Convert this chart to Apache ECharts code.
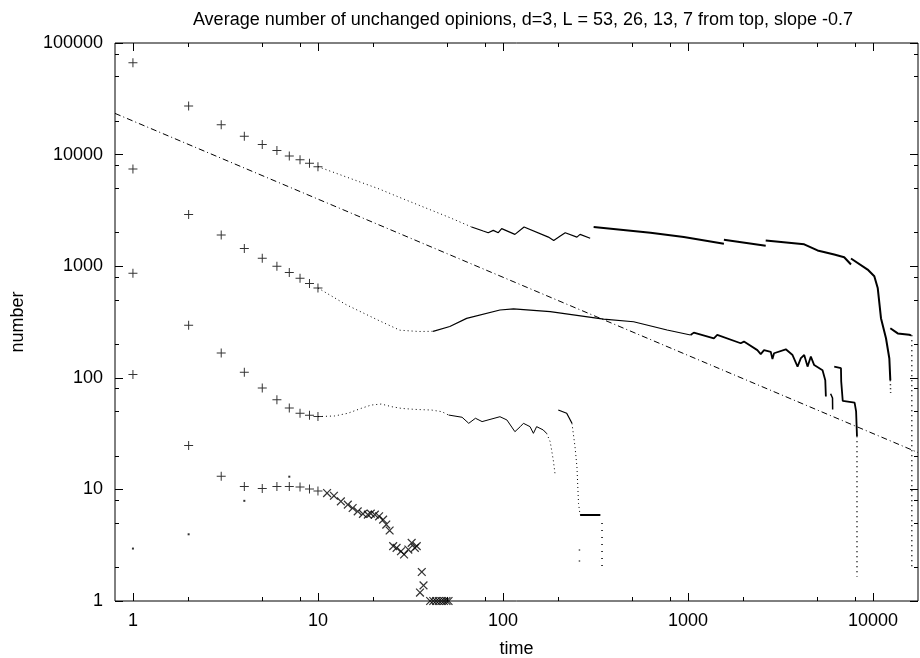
<!DOCTYPE html>
<html><head><meta charset="utf-8">
<script src="https://cdn.jsdelivr.net/npm/echarts@6/dist/echarts.min.js"></script>
<style>html,body{margin:0;padding:0;background:#fff}#c{width:920px;height:658px}</style>
</head><body><div id="c"></div>
<script>
const FONT = '"Liberation Sans", Arial, Helvetica, sans-serif';
const TITLE = 'Average number of unchanged opinions, d=3, L = 53, 26, 13, 7 from top, slope -0.7';

// tick values
const xMajor = [1, 10, 100, 1000, 10000];
const xMinor = [2, 5, 8, 20, 50, 80, 200, 500, 800, 2000, 5000, 8000];
const yMajor = [1, 10, 100, 1000, 10000, 100000];
const yMinor = [2, 5, 8, 20, 50, 80, 200, 500, 800, 2000, 5000, 8000, 20000, 50000, 80000];

// early times shown with "+"
const times = [1, 2, 3, 4, 5, 6, 7, 8, 9, 10];
const l53Plus = [66500, 27200, 18500, 14600, 12300, 10900, 9720, 9010, 8350, 7800];
const l26Plus = [7430, 2900, 1900, 1443, 1180, 1000, 877, 780, 699, 638];
const l13Plus = [863, 295, 167, 112, 80.9, 63.7, 53.6, 48.1, 46.2, 44.9];
const l7Plus  = [107, 24.7, 13.1, 10.6, 10.2, 10.6, 10.6, 10.5, 10.1, 9.66];

// tiny isolated dots
const smallDots = [[1, 2.95], [2, 3.96], [4, 7.9], [7, 13]];

// L = 7 shown with "x"
const l7Cross = [[11.2, 9.27], [12.2, 8.77], [13.3, 7.81], [14.5, 7.3], [15.4, 6.81], [16.4, 6.36],
  [17.5, 6.03], [18.6, 5.94], [19.3, 6.07], [20.3, 5.94], [21.4, 5.74], [22.5, 5.36], [23.4, 4.84],
  [24.4, 4.28], [25.5, 3.1], [26.6, 2.99], [28.1, 2.79], [29.2, 2.61], [30.8, 2.89], [32.1, 3.32],
  [33.4, 2.99], [34.2, 3.1], [36.4, 1.82], [37.2, 1.38], [35.6, 1.19],
  [40.4, 1], [42, 1], [43.5, 1], [45, 1], [46.5, 1], [48, 1], [49.5, 1], [50.8, 1]];

// L = 53
const l53Dotted = [[10, 7800], [21.5, 4910], [27.7, 4125], [51.6, 2724], [67.7, 2245]];
const l53Jagged = [[67.7, 2245], [78.2, 2066], [83.2, 1995], [88.6, 2094], [94.3, 1995], [98.4, 2170],
  [116, 1928], [130, 2245], [176, 1823], [188, 1702], [204, 1864], [217, 1995], [251, 1823],
  [261, 1928], [296, 1778]];
const l53SegB = [[309, 2245], [627, 1995], [949, 1823], [1563, 1589]];
const l53SegC = [[1563, 1725], [2630, 1524]];
const l53SegD = [[2630, 1702], [4246, 1570], [5013, 1384], [6170, 1273], [6985, 1204], [7600, 1035]];
const l53SegE = [[7600, 1172], [9350, 933], [10160, 813], [10600, 638], [11040, 342], [11750, 226],
  [12250, 149], [12400, 95]];
const l53Tail = [[12400, 95], [12450, 73]];
const l53SegF = [[12400, 278], [13600, 250], [15700, 243], [16070, 240]];
const l53Drop = [[16200, 240], [16200, 1.96]];

// L = 26
const l26Dotted = [[10, 638], [14.2, 452], [21.5, 324], [27.7, 267], [35, 260], [41.9, 261]];
const l26Rise = [[41.9, 261], [51.6, 288], [63.6, 341], [96.3, 405], [114, 414], [180, 391], [350, 336],
  [508, 318], [771, 268], [1032, 242]];
const l26Main = [[1032, 242], [1075, 254], [1380, 226], [1439, 242], [1927, 204], [2006, 211],
  [2370, 177], [2472, 163], [2576, 177], [2800, 171], [2860, 147], [2918, 166], [3377, 180],
  [3450, 177], [3673, 160], [3909, 126], [4074, 150], [4247, 160], [4426, 126], [4613, 155],
  [4808, 130], [5335, 117], [5447, 114], [5520, 95], [5560, 68]];
const l26Piece1 = [[5900, 72], [6040, 66], [6050, 52]];
const l26Piece2 = [[6170, 126], [6710, 122], [6730, 93], [6860, 62], [7950, 60], [8100, 50], [8190, 30]];
const l26Drop = [[8190, 30], [8190, 1.65]];

// L = 13
const l13Dotted = [[10, 44.9], [12.3, 45.5], [14.5, 48.1], [17.1, 53.2], [19.4, 57.0], [22.0, 58.2],
  [25.0, 55.1], [28.3, 53.2], [33.5, 52.1], [41.2, 51.4], [46.7, 49.7], [50.8, 46.4]];
const l13Main = [[50.8, 46.4], [60.1, 44.3], [65.3, 39.1], [71, 43.4], [77.1, 40.5], [96.3, 44.8],
  [105, 41.9], [116, 32.9], [124, 36.5], [129, 39.1], [140, 36.5], [146, 31.8], [152, 36.5],
  [165, 34.1], [172, 31.8]];
const l13Fall1 = [[172, 31.8], [180, 26.7], [187, 18.3], [191, 13.9]];
const l13Piece = [[199, 51.4], [221, 48.1], [236, 39.1]];
const l13Fall2 = [[236, 39.1], [245, 24.2], [251, 16.0], [256, 7.5], [261, 5.9]];
const l13Flat = [[261, 5.9], [336, 5.9]];
const l13Drop1 = [[343, 5.0], [343, 1.96]];
const l13Drop2 = [[259, 2.9], [259, 1.96]];

// reference power law, slope -0.7 (end points)
const slopeLine = [[0.8, 23400], [17500, 21.4]];

const PLUS = 'path://M4,0h1v4h4v1h-4v4h-1v-4h-4v-1h4z';

function line(data, width, dash) {
  return { type: 'line', data: data, symbol: 'none', silent: true, animation: false,
    lineStyle: { color: '#000', width: width, type: dash || 'solid', cap: 'butt' }, z: 3 };
}
function pts(data, size, rot) {
  return { type: 'scatter', data: data, symbol: PLUS, symbolSize: size, symbolRotate: rot || 0,
    itemStyle: { color: '#000' }, silent: true, animation: false, z: 4 };
}
const DOT = [1, 3];

const series = [
  line(slopeLine, 1, [6, 3, 1, 3]),
  pts(times.map((t, i) => [t, l53Plus[i]]), 9),
  pts(times.map((t, i) => [t, l26Plus[i]]), 9),
  pts(times.map((t, i) => [t, l13Plus[i]]), 9),
  pts(times.map((t, i) => [t, l7Plus[i]]), 9),
  pts(l7Cross, 11, 45),
  { type: 'scatter', data: smallDots, symbol: 'rect', symbolSize: 2, itemStyle: { color: '#000' }, silent: true, animation: false },
  line(l53Dotted, 1, DOT), line(l53Jagged, 1.2), line(l53SegB, 2), line(l53SegC, 2), line(l53SegD, 2),
  line(l53SegE, 2), line(l53Tail, 1.5, DOT), line(l53SegF, 2), line(l53Drop, 1.5, [1, 4]),
  line(l26Dotted, 1, DOT), line(l26Rise, 1.2), line(l26Main, 1.8), line(l26Piece1, 1.5), line(l26Piece2, 1.8), line(l26Drop, 1.5, [1, 4]),
  line(l13Dotted, 1, DOT), line(l13Main, 1), line(l13Fall1, 1, DOT), line(l13Piece, 1.2), line(l13Fall2, 1, DOT),
  line(l13Flat, 2), line(l13Drop1, 1.5, [1, 6]), line(l13Drop2, 1.5, [1, 10])
];

const FS = 18;
const fmt = v => String(v);
const labelStyle = { color: '#000', fontSize: FS, fontFamily: FONT, formatter: fmt };
function xAx(pos, ticks, len, withLabel) {
  const a = { type: 'log', logBase: 10, min: 0.8, max: 17500, position: pos,
    axisLine: { show: false }, splitLine: { show: false },
    axisTick: { show: true, inside: true, length: len, customValues: ticks, lineStyle: { color: '#000', width: 1 } },
    axisLabel: withLabel ? Object.assign({ customValues: xMajor, margin: 11 }, labelStyle) : { show: false } };
  if (withLabel) {
    a.name = 'time'; a.nameLocation = 'middle'; a.nameGap = 39;
    a.nameTextStyle = { color: '#000', fontSize: FS, fontFamily: FONT };
  }
  return a;
}
function yAx(pos, ticks, len, withLabel) {
  const a = { type: 'log', logBase: 10, min: 1, max: 100000, position: pos,
    axisLine: { show: false }, splitLine: { show: false },
    axisTick: { show: true, inside: true, length: len, customValues: ticks, lineStyle: { color: '#000', width: 1 } },
    axisLabel: withLabel ? Object.assign({ customValues: yMajor, margin: 12 }, labelStyle) : { show: false } };
  if (withLabel) {
    a.name = 'number'; a.nameLocation = 'middle'; a.nameGap = 88;
    a.nameTextStyle = { color: '#000', fontSize: FS, fontFamily: FONT };
  }
  return a;
}

const chart = echarts.init(document.getElementById('c'), null, { renderer: 'canvas' });
chart.setOption({
  animation: false,
  backgroundColor: '#fff',
  title: { text: TITLE, left: 518, top: 6, textAlign: 'center',
    textStyle: { color: '#000', fontSize: FS, fontWeight: 'normal', fontFamily: FONT } },
  grid: { left: 115, right: 2, top: 43, bottom: 57, containLabel: false, outerBoundsMode: 'none',
    show: true, borderColor: '#000', borderWidth: 1, backgroundColor: 'transparent' },
  xAxis: [xAx('bottom', xMajor, 8, true), xAx('bottom', xMinor, 4, false),
          xAx('top', xMajor, 8, false), xAx('top', xMinor, 4, false)],
  yAxis: [yAx('left', yMajor, 8, true), yAx('left', yMinor, 4, false),
          yAx('right', yMajor, 8, false), yAx('right', yMinor, 4, false)],
  series: series.map(s => Object.assign(s, { xAxisIndex: 0, yAxisIndex: 0 }))
});
</script></body></html>
